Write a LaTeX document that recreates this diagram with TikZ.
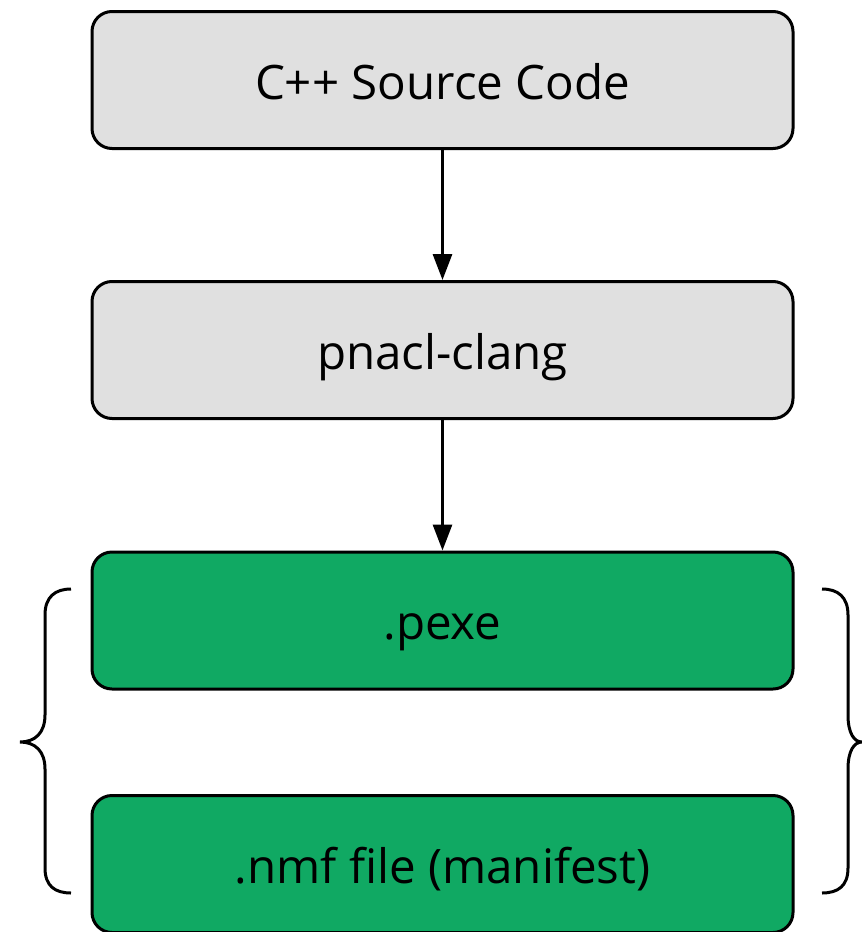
\documentclass[tikz,border=0pt]{standalone}
\usepackage{fontspec}
\setmainfont{Open Sans}
\usetikzlibrary{arrows.meta}
\definecolor{boxgray}{RGB}{224,224,224}
\definecolor{boxgreen}{RGB}{16,169,99}
\begin{document}
\begin{tikzpicture}[x=1pt,y=-1pt,
  stage/.style={draw=black, line width=3pt, rounded corners=20pt,
    minimum width=701pt, minimum height=137pt, inner sep=0pt,
    text height=38pt, text depth=0pt,
    font=\fontsize{47.5}{56}\selectfont},
  source/.style={stage, fill=boxgray},
  output/.style={stage, fill=boxgreen},
  flow/.style={line width=3pt, -{Triangle[length=26pt,width=19pt]}},
  brace/.style={line width=3pt}]
\useasboundingbox (0,0) rectangle (862,932);
\node[source] (src) at (442.5,80) {C++ Source Code};
\node[source] (clang) at (442.5,350) {pnacl-clang};
\node[output] (pexe) at (442.5,620.5) {.pexe};
\node[output] (nmf) at (442.5,864) {.nmf file (manifest)};
\draw[flow] (src) -- (clang);
\draw[flow] (clang) -- (pexe);
% braces grouping the two output files
\draw[brace] (71,589) .. controls (55,589) and (45,597) .. (45,615) -- (45,715)
  .. controls (45,733) and (35,742) .. (20,742)
  .. controls (35,742) and (45,751) .. (45,769) -- (45,868)
  .. controls (45,886) and (55,893) .. (71,893);
\draw[brace] (822,589) .. controls (838,589) and (848,597) .. (848,615) -- (848,715)
  .. controls (848,733) and (854,742) .. (862,742)
  .. controls (854,742) and (848,751) .. (848,769) -- (848,868)
  .. controls (848,886) and (838,893) .. (822,893);
\end{tikzpicture}
\end{document}
